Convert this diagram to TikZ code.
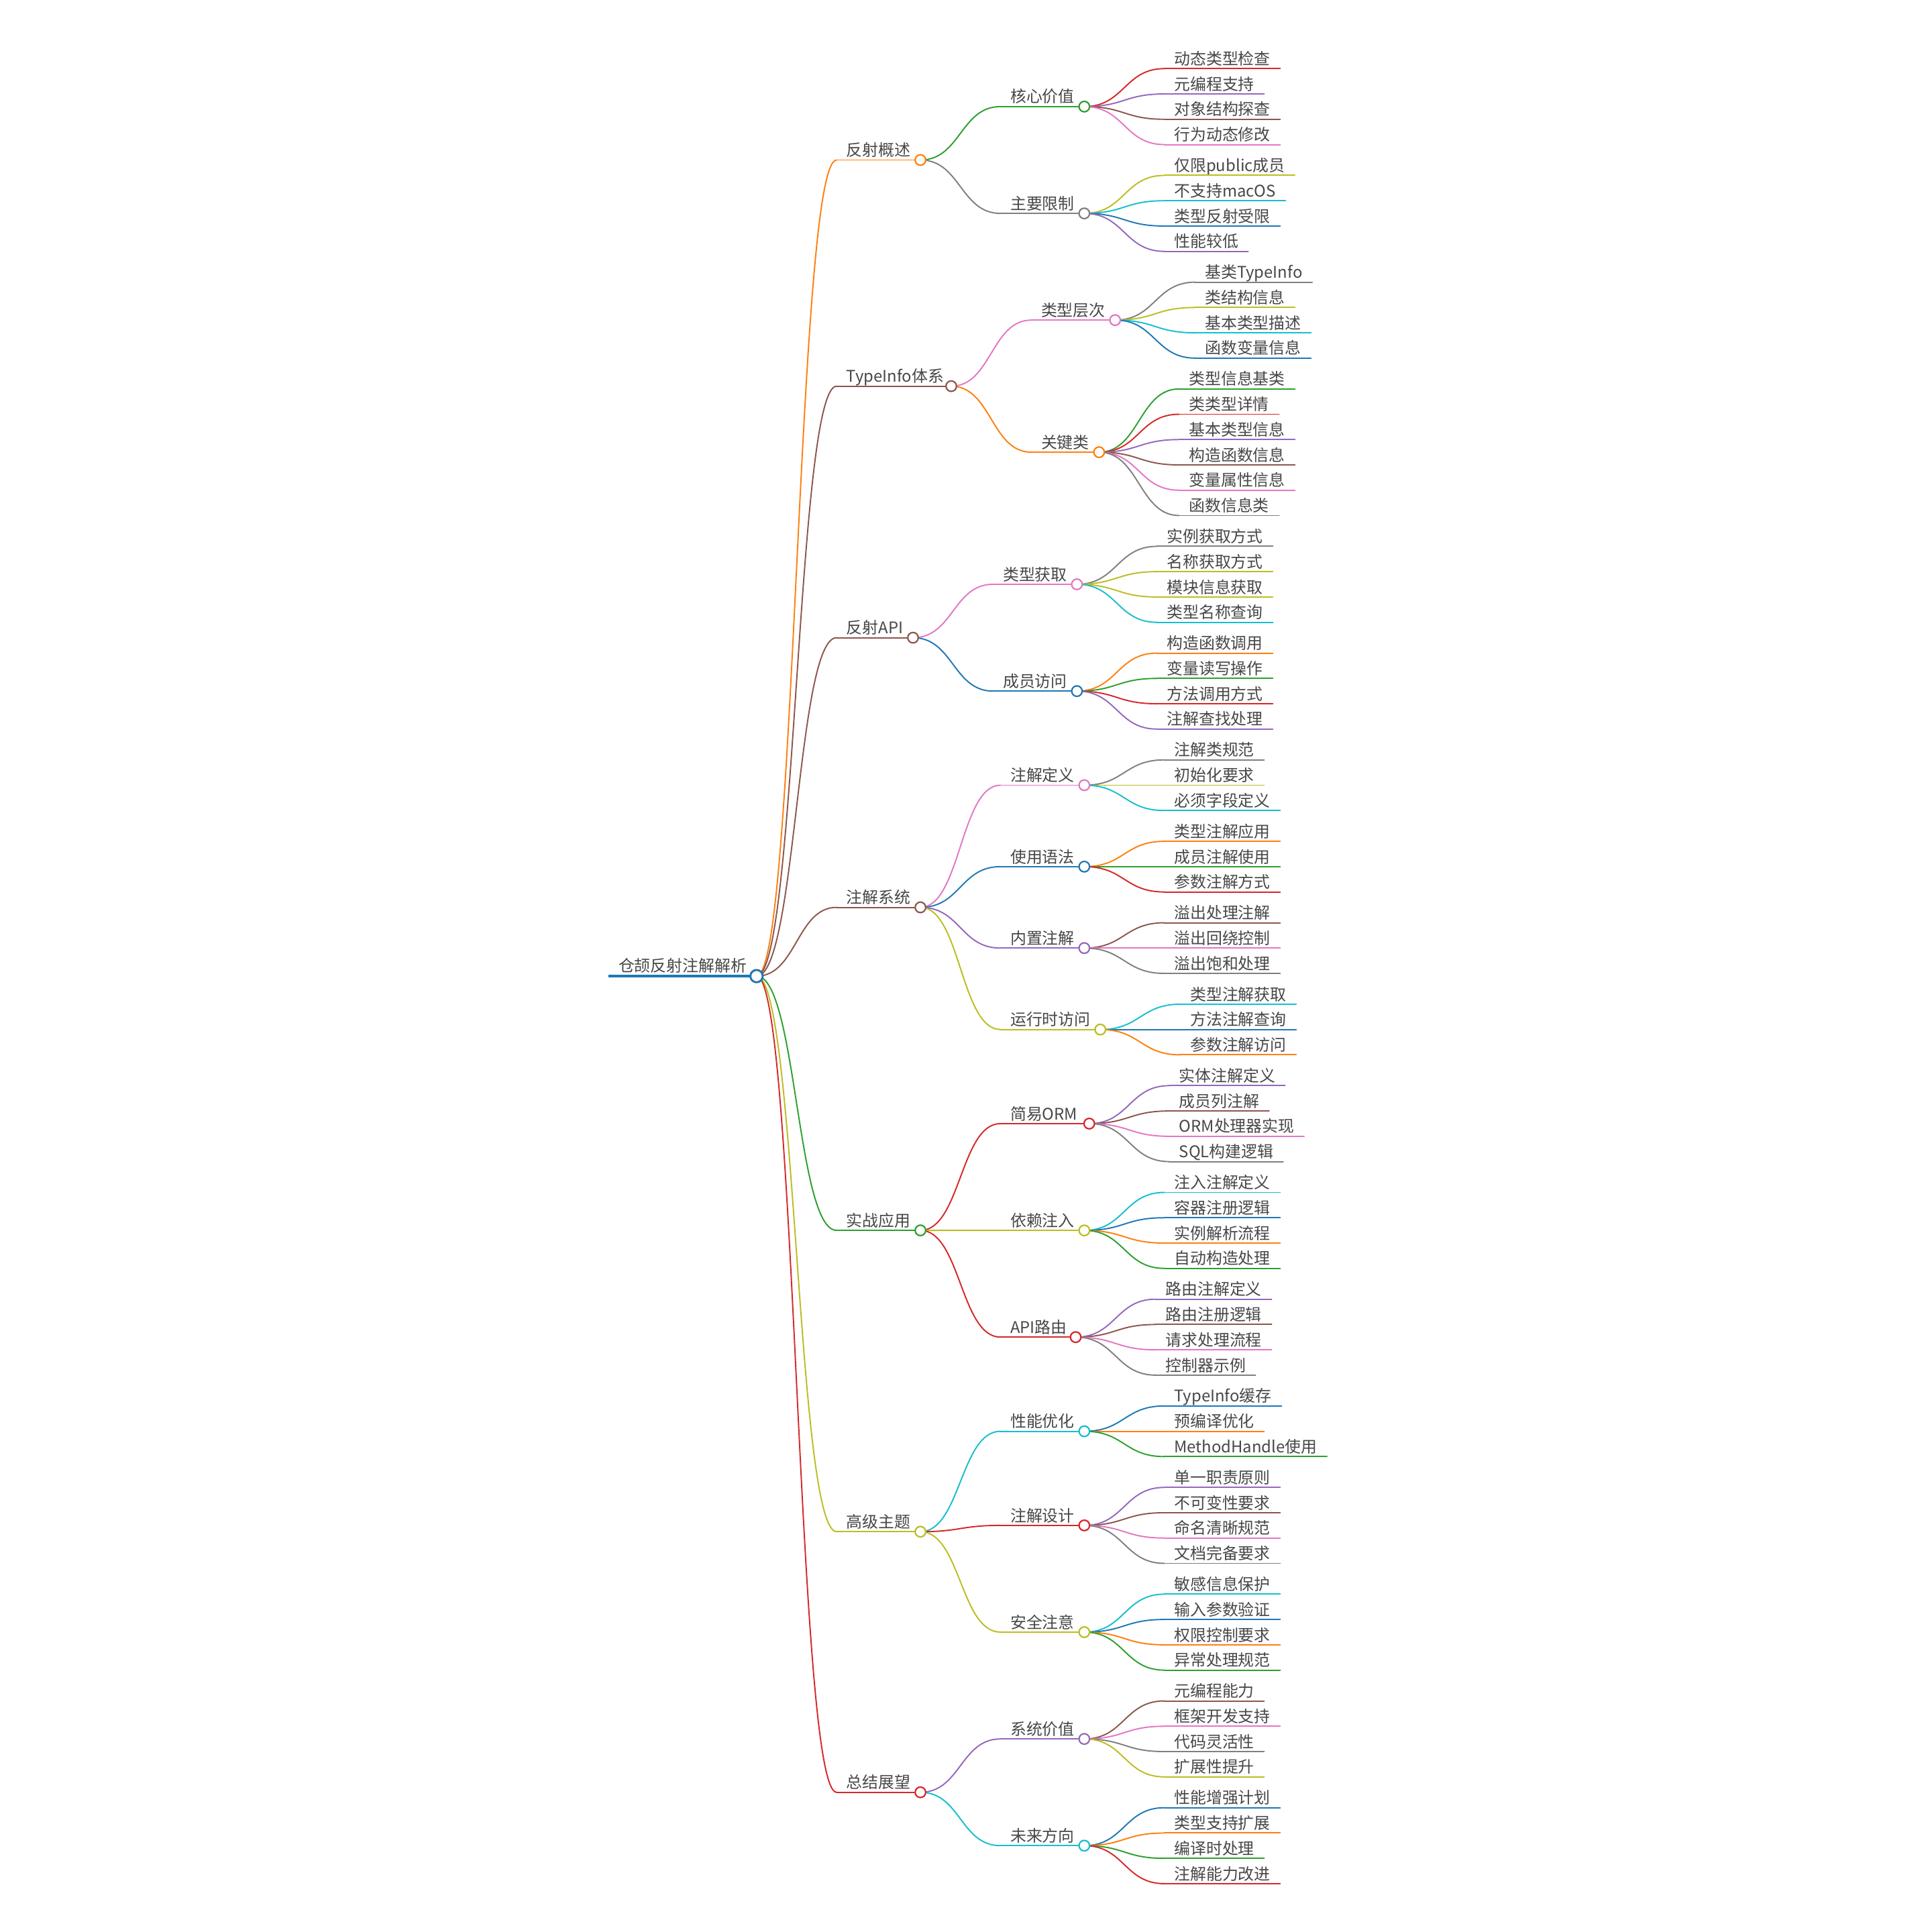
\documentclass[tikz,border=0pt]{standalone}
\usepackage{fontspec}
\setmainfont{Noto Sans CJK SC}
\usetikzlibrary{calc}
\pgfdeclarelayer{fg}
\pgfsetlayers{main,fg}
\definecolor{mmblue}{HTML}{1F77B4}
\definecolor{mmorange}{HTML}{FF7F0E}
\definecolor{mmgreen}{HTML}{2CA02C}
\definecolor{mmred}{HTML}{D62728}
\definecolor{mmpurple}{HTML}{9467BD}
\definecolor{mmbrown}{HTML}{8C564B}
\definecolor{mmpink}{HTML}{E377C2}
\definecolor{mmgray}{HTML}{7F7F7F}
\definecolor{mmolive}{HTML}{BCBD22}
\definecolor{mmcyan}{HTML}{17BECF}
\definecolor{mmtext}{HTML}{474747}
\tikzset{
  mmtxt/.style={font=\fontsize{13}{15}\selectfont, text=mmtext, inner sep=0pt, outer sep=0pt, anchor=base west},
  mmedge/.style={line width=1.05pt, line cap=round},
  mmlink/.style={to path={let \p1=(\tikztostart), \p2=(\tikztotarget), \p3=($(\tikztostart)!0.5!(\tikztotarget)$) in .. controls (\x3,\y1) and (\x3,\y2) .. (\tikztotarget)}},
  mmdot/.style={circle, fill=white, inner sep=0pt, outer sep=0pt, minimum size=8.5pt, line width=1.2pt},
}
% #1 name, #2 parent, #3 x0, #4 y, #5 circle x, #6 colour, #7 text
\newcommand\mmmid[7]{%
  \coordinate (#1s) at (#3,#4);
  \coordinate (#1) at (#5,#4);
  \node[mmtxt] (#1t) at ({#3+8},{#4-3.2}) {#7};
  \draw[mmedge,#6] (#2) to[mmlink] (#1s);
  \draw[mmedge,#6] (#1s) -- (#1);
  \begin{pgfonlayer}{fg}\node[mmdot,draw=#6] (#1d) at (#1) {};\end{pgfonlayer}
}
% #1 name, #2 parent, #3 x0, #4 y, #5 colour, #6 text
\newcommand\mmleaf[6]{%
  \coordinate (#1s) at (#3,#4);
  \node[mmtxt] (#1t) at ({#3+8},{#4-3.2}) {#6};
  \draw[mmedge,#5] (#2) to[mmlink] (#1s);
  \draw[mmedge,#5] (#1s) -- (#1t.east |- #1s) -- ++(8,0);
}
\begin{document}
\begin{tikzpicture}[x=1pt,y=-1pt]
\fill[white] (0,0) rectangle (1568,1568);
\useasboundingbox (0,0) rectangle (1568,1568);
% root
\coordinate (R0s) at (494,792.2);
\coordinate (R0) at (614,792.2);
\node[mmtxt] (R0t) at (502,788.7) {仓颉反射注解解析};
\draw[line width=1.8pt, mmblue] (R0s) -- (R0);
\begin{pgfonlayer}{fg}\node[mmdot, draw=mmblue, minimum size=10pt, line width=1.6pt] (R0d) at (R0) {};\end{pgfonlayer}
% level 1
\mmmid{A}{R0}{679}{129.85}{747}{mmorange}{反射概述}
\mmmid{B}{R0}{679}{313.4}{772}{mmbrown}{TypeInfo体系}
\mmmid{C}{R0}{679}{517.55}{741}{mmbrown}{反射API}
\mmmid{D}{R0}{679}{736.4}{747}{mmbrown}{注解系统}
\mmmid{E}{R0}{679}{998.55}{747}{mmgreen}{实战应用}
\mmmid{F}{R0}{679}{1243.1}{747}{mmolive}{高级主题}
\mmmid{G}{R0}{679}{1454.6}{747}{mmred}{总结展望}
% level 2
\mmmid{A1}{A}{812}{86.5}{880}{mmgreen}{核心价值}
\mmmid{A2}{A}{812}{173.2}{880}{mmgray}{主要限制}
\mmmid{B1}{B}{837}{259.8}{905}{mmpink}{类型层次}
\mmmid{B2}{B}{837}{367.0}{892}{mmorange}{关键类}
\mmmid{C1}{C}{806}{474.2}{874}{mmpink}{类型获取}
\mmmid{C2}{C}{806}{560.9}{874}{mmblue}{成员访问}
\mmmid{D1}{D}{812}{637.25}{880}{mmpink}{注解定义}
\mmmid{D2}{D}{812}{703.35}{880}{mmblue}{使用语法}
\mmmid{D3}{D}{812}{769.45}{880}{mmpurple}{内置注解}
\mmmid{D4}{D}{812}{835.55}{893}{mmolive}{运行时访问}
\mmmid{E1}{E}{812}{911.9}{884}{mmred}{简易ORM}
\mmmid{E2}{E}{812}{998.6}{880}{mmolive}{依赖注入}
\mmmid{E3}{E}{812}{1085.2}{873}{mmred}{API路由}
\mmmid{F1}{F}{812}{1161.6}{880}{mmcyan}{性能优化}
\mmmid{F2}{F}{812}{1238.0}{880}{mmred}{注解设计}
\mmmid{F3}{F}{812}{1324.6}{880}{mmolive}{安全注意}
\mmmid{G1}{G}{812}{1411.3}{880}{mmpurple}{系统价值}
\mmmid{G2}{G}{812}{1497.9}{880}{mmcyan}{未来方向}
% leaves
\mmleaf{A1a}{A1}{945}{55.7}{mmred}{动态类型检查}
\mmleaf{A1b}{A1}{945}{76.25}{mmpurple}{元编程支持}
\mmleaf{A1c}{A1}{945}{96.8}{mmbrown}{对象结构探查}
\mmleaf{A1d}{A1}{945}{117.35}{mmpink}{行为动态修改}
\mmleaf{A2a}{A2}{945}{142.35}{mmolive}{仅限public成员}
\mmleaf{A2b}{A2}{945}{162.9}{mmcyan}{不支持macOS}
\mmleaf{A2c}{A2}{945}{183.45}{mmblue}{类型反射受限}
\mmleaf{A2d}{A2}{945}{204.0}{mmpurple}{性能较低}
\mmleaf{B1a}{B1}{970}{229.0}{mmgray}{基类TypeInfo}
\mmleaf{B1b}{B1}{970}{249.55}{mmolive}{类结构信息}
\mmleaf{B1c}{B1}{970}{270.1}{mmcyan}{基本类型描述}
\mmleaf{B1d}{B1}{970}{290.65}{mmblue}{函数变量信息}
\mmleaf{B2a}{B2}{957}{315.65}{mmgreen}{类型信息基类}
\mmleaf{B2b}{B2}{957}{336.2}{mmred}{类类型详情}
\mmleaf{B2c}{B2}{957}{356.75}{mmpurple}{基本类型信息}
\mmleaf{B2d}{B2}{957}{377.3}{mmbrown}{构造函数信息}
\mmleaf{B2e}{B2}{957}{397.85}{mmpink}{变量属性信息}
\mmleaf{B2f}{B2}{957}{418.4}{mmgray}{函数信息类}
\mmleaf{C1a}{C1}{939}{443.4}{mmgray}{实例获取方式}
\mmleaf{C1b}{C1}{939}{463.95}{mmolive}{名称获取方式}
\mmleaf{C1c}{C1}{939}{484.5}{mmolive}{模块信息获取}
\mmleaf{C1d}{C1}{939}{505.05}{mmcyan}{类型名称查询}
\mmleaf{C2a}{C2}{939}{530.05}{mmorange}{构造函数调用}
\mmleaf{C2b}{C2}{939}{550.6}{mmgreen}{变量读写操作}
\mmleaf{C2c}{C2}{939}{571.15}{mmred}{方法调用方式}
\mmleaf{C2d}{C2}{939}{591.7}{mmpurple}{注解查找处理}
\mmleaf{D1a}{D1}{945}{616.7}{mmgray}{注解类规范}
\mmleaf{D1b}{D1}{945}{637.25}{mmolive}{初始化要求}
\mmleaf{D1c}{D1}{945}{657.8}{mmcyan}{必须字段定义}
\mmleaf{D2a}{D2}{945}{682.8}{mmorange}{类型注解应用}
\mmleaf{D2b}{D2}{945}{703.35}{mmgreen}{成员注解使用}
\mmleaf{D2c}{D2}{945}{723.9}{mmred}{参数注解方式}
\mmleaf{D3a}{D3}{945}{748.9}{mmbrown}{溢出处理注解}
\mmleaf{D3b}{D3}{945}{769.45}{mmpink}{溢出回绕控制}
\mmleaf{D3c}{D3}{945}{790.0}{mmgray}{溢出饱和处理}
\mmleaf{D4a}{D4}{958}{815.0}{mmcyan}{类型注解获取}
\mmleaf{D4b}{D4}{958}{835.55}{mmblue}{方法注解查询}
\mmleaf{D4c}{D4}{958}{856.1}{mmorange}{参数注解访问}
\mmleaf{E1a}{E1}{949}{881.1}{mmpurple}{实体注解定义}
\mmleaf{E1b}{E1}{949}{901.65}{mmbrown}{成员列注解}
\mmleaf{E1c}{E1}{949}{922.2}{mmpink}{ORM处理器实现}
\mmleaf{E1d}{E1}{949}{942.75}{mmgray}{SQL构建逻辑}
\mmleaf{E2a}{E2}{945}{967.75}{mmcyan}{注入注解定义}
\mmleaf{E2b}{E2}{945}{988.3}{mmblue}{容器注册逻辑}
\mmleaf{E2c}{E2}{945}{1008.85}{mmorange}{实例解析流程}
\mmleaf{E2d}{E2}{945}{1029.4}{mmgreen}{自动构造处理}
\mmleaf{E3a}{E3}{938}{1054.4}{mmpurple}{路由注解定义}
\mmleaf{E3b}{E3}{938}{1074.95}{mmbrown}{路由注册逻辑}
\mmleaf{E3c}{E3}{938}{1095.5}{mmpink}{请求处理流程}
\mmleaf{E3d}{E3}{938}{1116.05}{mmgray}{控制器示例}
\mmleaf{F1a}{F1}{945}{1141.05}{mmblue}{TypeInfo缓存}
\mmleaf{F1b}{F1}{945}{1161.6}{mmorange}{预编译优化}
\mmleaf{F1c}{F1}{945}{1182.15}{mmgreen}{MethodHandle使用}
\mmleaf{F2a}{F2}{945}{1207.15}{mmpurple}{单一职责原则}
\mmleaf{F2b}{F2}{945}{1227.7}{mmbrown}{不可变性要求}
\mmleaf{F2c}{F2}{945}{1248.25}{mmpink}{命名清晰规范}
\mmleaf{F2d}{F2}{945}{1268.8}{mmgray}{文档完备要求}
\mmleaf{F3a}{F3}{945}{1293.8}{mmcyan}{敏感信息保护}
\mmleaf{F3b}{F3}{945}{1314.35}{mmblue}{输入参数验证}
\mmleaf{F3c}{F3}{945}{1334.9}{mmorange}{权限控制要求}
\mmleaf{F3d}{F3}{945}{1355.45}{mmgreen}{异常处理规范}
\mmleaf{G1a}{G1}{945}{1380.45}{mmbrown}{元编程能力}
\mmleaf{G1b}{G1}{945}{1401.0}{mmpink}{框架开发支持}
\mmleaf{G1c}{G1}{945}{1421.55}{mmgray}{代码灵活性}
\mmleaf{G1d}{G1}{945}{1442.1}{mmolive}{扩展性提升}
\mmleaf{G2a}{G2}{945}{1467.1}{mmblue}{性能增强计划}
\mmleaf{G2b}{G2}{945}{1487.65}{mmorange}{类型支持扩展}
\mmleaf{G2c}{G2}{945}{1508.2}{mmgreen}{编译时处理}
\mmleaf{G2d}{G2}{945}{1528.75}{mmred}{注解能力改进}
\end{tikzpicture}
\end{document}
